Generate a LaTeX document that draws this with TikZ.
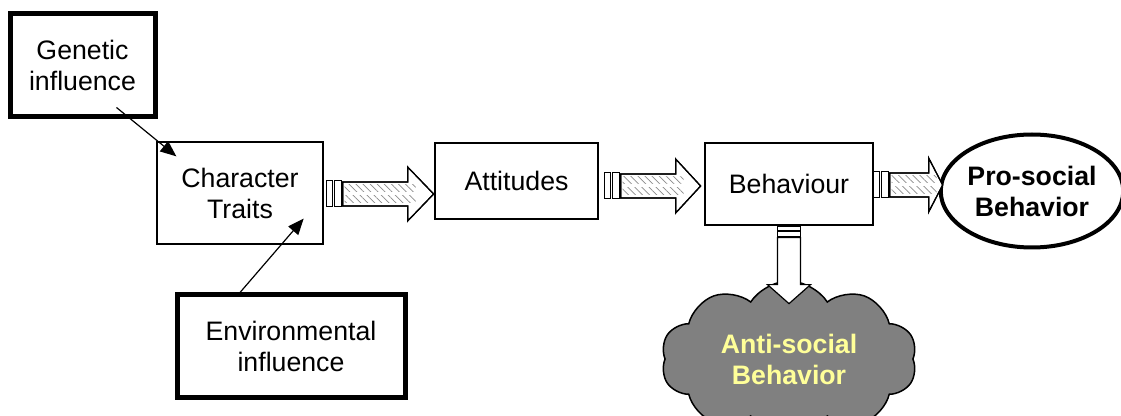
\documentclass[tikz,border=0pt]{standalone}
\usepackage{fontspec}
\setmainfont{Liberation Sans}
\usetikzlibrary{shapes.geometric,shapes.symbols,patterns.meta,arrows.meta,calc}
\definecolor{cloudgray}{HTML}{808080}
\definecolor{paleyellow}{HTML}{FFFF99}
\begin{document}
\begin{tikzpicture}[x=1pt,y=1pt,
  txt/.style={font=\fontsize{26.7}{31}\selectfont, align=center},
  boldtxt/.style={font=\fontsize{26.7}{31}\selectfont\bfseries, align=center},
  thinbox/.style={txt, draw, line width=1.3pt, inner sep=0pt, fill=white},
  thickbox/.style={txt, draw, line width=5pt, inner sep=0pt, fill=white},
  infl/.style={-{Triangle[length=16pt,width=13pt]}, line width=1.2pt},
  hatch/.style={pattern={Lines[angle=-45,distance=5pt,line width=0.7pt]}, pattern color=gray!90},
  pics/harrow/.style n args={2}{code={
    \draw[line width=1pt, fill=white] (0,-13) rectangle (6,13);
    \draw[line width=1pt, fill=white] (8,-13) rectangle (15,13);
    \draw[line width=1.2pt, fill=white, line join=miter]
      (16,-12) -- ({#1-#2},-12) -- ({#1-#2},-27) -- (#1,0) -- ({#1-#2},27) -- ({#1-#2},12) -- (16,12) -- cycle;
    \fill[hatch] (18,2) rectangle ({#1-#2+8},9);
    \fill[hatch] (18,-9) rectangle ({#1-#2+8},-2);
    \draw[line width=1.2pt, line join=miter]
      (16,-12) -- ({#1-#2},-12) -- ({#1-#2},-27) -- (#1,0) -- ({#1-#2},27) -- ({#1-#2},12) -- (16,12) -- cycle;
  }}
]
\useasboundingbox (0,0) rectangle (1121,415);
\clip (0,0) rectangle (1121,415);

% nodes
\node[thickbox, minimum width=145, minimum height=103] (gen) at (82.5,349.5) {Genetic\\influence};
\node[thinbox, minimum width=166, minimum height=102] (ct) at (240,222) {Character\\Traits};
\node[thinbox, minimum width=163, minimum height=76] (att) at (516.5,234) {Attitudes};
\node[thinbox, minimum width=168, minimum height=82] (beh) at (789,231) {Behaviour};
\node[ellipse, draw, line width=4pt, fill=white, boldtxt, minimum width=174, minimum height=113, inner sep=0pt] (pro) at (1032,224) {Pro-social\\Behavior};
\node[thickbox, minimum width=228, minimum height=102] (env) at (291,69) {Environmental\\influence};
\node[cloud, cloud puffs=10, cloud puff arc=115, cloud ignores aspect, draw, line width=1.5pt,
      fill=cloudgray, text=paleyellow, boldtxt, minimum width=256, minimum height=156, inner sep=0pt]
      (anti) at (789,56) {Anti-social\\Behavior};

% influence arrows
\draw[infl] ($(gen.south east)+(-41,12)$) -- ($(ct.north west)+(20,-15)$);
\draw[infl] ($(env.north)+(-51,0)$) -- ($(ct.south east)+(-20,26)$);

% block arrows
\pic at ($(ct.east)+(3,-1)$) {harrow={107}{26}};
\pic at ($(att.east)+(6,-5)$) {harrow={96}{25}};
\pic at ($(beh.east)+(0,-1)$) {harrow={69}{14}};

% down arrow
\coordinate (d) at (beh.south);
\draw[line width=1pt, fill=white] ($(d)+(-11.5,-1)$) rectangle ($(d)+(11.5,-5)$);
\draw[line width=1pt, fill=white] ($(d)+(-11.5,-6)$) rectangle ($(d)+(11.5,-11)$);
\draw[line width=1.2pt, fill=white, line join=miter]
  ($(d)+(-11.5,-12)$) -- ($(d)+(-11.5,-59)$) -- ($(d)+(-21.5,-59)$) -- ($(d)+(0,-78)$)
  -- ($(d)+(21.5,-59)$) -- ($(d)+(11.5,-59)$) -- ($(d)+(11.5,-12)$) -- cycle;
\end{tikzpicture}
\end{document}
